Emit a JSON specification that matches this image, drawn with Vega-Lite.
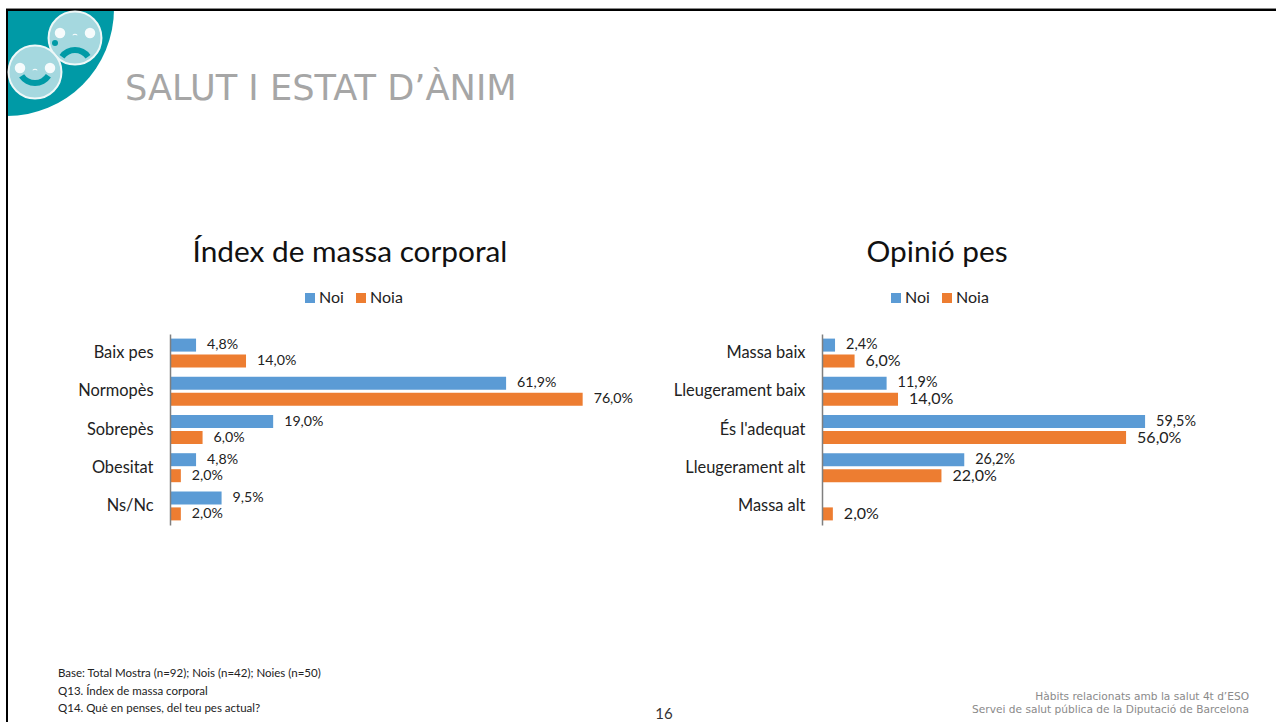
{
"$schema":"https://vega.github.io/schema/vega-lite/v6.json",
"background":"white",
"padding":0,
"autosize":{"type":"pad"},
"bounds":"flush",
"spacing":182,
"config":{"view":{"stroke":null},"font":"Lato"},
"datasets":{
"imc":[
{"cat":"Baix pes","sexe":"Noi","val":4.8,"label":"4,8%"},{"cat":"Baix pes","sexe":"Noia","val":14,"label":"14,0%"},
{"cat":"Normopès","sexe":"Noi","val":61.9,"label":"61,9%"},{"cat":"Normopès","sexe":"Noia","val":76,"label":"76,0%"},
{"cat":"Sobrepès","sexe":"Noi","val":19,"label":"19,0%"},{"cat":"Sobrepès","sexe":"Noia","val":6,"label":"6,0%"},
{"cat":"Obesitat","sexe":"Noi","val":4.8,"label":"4,8%"},{"cat":"Obesitat","sexe":"Noia","val":2,"label":"2,0%"},
{"cat":"Ns/Nc","sexe":"Noi","val":9.5,"label":"9,5%"},{"cat":"Ns/Nc","sexe":"Noia","val":2,"label":"2,0%"}],
"opinio":[
{"cat":"Massa baix","sexe":"Noi","val":2.4,"label":"2,4%"},{"cat":"Massa baix","sexe":"Noia","val":6,"label":"6,0%"},
{"cat":"Lleugerament baix","sexe":"Noi","val":11.9,"label":"11,9%"},{"cat":"Lleugerament baix","sexe":"Noia","val":14,"label":"14,0%"},
{"cat":"És l'adequat","sexe":"Noi","val":59.5,"label":"59,5%"},{"cat":"És l'adequat","sexe":"Noia","val":56,"label":"56,0%"},
{"cat":"Lleugerament alt","sexe":"Noi","val":26.2,"label":"26,2%"},{"cat":"Lleugerament alt","sexe":"Noia","val":22,"label":"22,0%"},
{"cat":"Massa alt","sexe":"Noia","val":2,"label":"2,0%"}],
"one":[{"k":1}]
},
"hconcat":[
{
"width":470,"height":191,
"layer":[
{"data":{"name":"one"},"mark":{"type":"rect","fill":"transparent","x":-170,"x2":1106,"y":-334,"y2":388},"encoding":{}},
{"data":{"name":"one"},"mark":{"type":"arc","fill":"#009aa6","x":-163,"y":-325,"theta":1.5708,"theta2":3.1416,"outerRadius":107,"innerRadius":0},"encoding":{}},
{"data":{"name":"one"},"mark":{"type":"rect","fill":"#000000","x":-164,"x2":-162,"y":-325,"y2":388},"encoding":{}},
{"data":{"name":"one"},"mark":{"type":"rect","fill":"#000000","x":-164,"x2":1106,"y":-325,"y2":-323},"encoding":{}},
{"data":{"name":"one"},"mark":{"type":"rect","fill":"#8a8a8a","x":-164,"x2":1106,"y":-326,"y2":-325},"encoding":{}},
{"data":{"name":"one"},"mark":{"type":"point","shape":"circle","filled":true,"fill":"#a5d8df","stroke":"#eef8f8","strokeWidth":2,"opacity":1,"size":2800,"x":-95,"y":-296},"encoding":{}},
{"data":{"name":"one"},"mark":{"type":"point","shape":"circle","filled":true,"fill":"#a5d8df","stroke":"#eef8f8","strokeWidth":2,"opacity":1,"size":2800,"x":-135,"y":-262},"encoding":{}},
{"data":{"name":"one"},"mark":{"type":"point","shape":"circle","filled":true,"fill":"#ffffff","opacity":0.9,"size":110,"x":-110,"y":-301},"encoding":{}},
{"data":{"name":"one"},"mark":{"type":"point","shape":"circle","filled":true,"fill":"#ffffff","opacity":0.9,"size":110,"x":-80,"y":-301},"encoding":{}},
{"data":{"name":"one"},"mark":{"type":"point","shape":"circle","filled":true,"fill":"#ffffff","opacity":0.9,"size":110,"x":-150,"y":-266},"encoding":{}},
{"data":{"name":"one"},"mark":{"type":"point","shape":"circle","filled":true,"fill":"#ffffff","opacity":0.9,"size":110,"x":-120,"y":-266},"encoding":{}},
{"data":{"name":"one"},"mark":{"type":"arc","fill":"#ffffff","x":-95,"y":-296,"theta":-0.7,"theta2":0.7,"outerRadius":4,"innerRadius":3.2},"encoding":{}},
{"data":{"name":"one"},"mark":{"type":"arc","fill":"#ffffff","x":-135,"y":-261,"theta":-0.7,"theta2":0.7,"outerRadius":4,"innerRadius":3.2},"encoding":{}},
{"data":{"name":"one"},"mark":{"type":"arc","fill":"#009aa6","x":-95,"y":-268,"theta":-0.95,"theta2":0.95,"outerRadius":19,"innerRadius":13},"encoding":{}},
{"data":{"name":"one"},"mark":{"type":"arc","fill":"#009aa6","x":-135,"y":-267,"theta":2.15,"theta2":4.13,"outerRadius":19,"innerRadius":13},"encoding":{}},
{"data":{"name":"one"},"mark":{"type":"point","shape":"circle","filled":true,"fill":"#009aa6","opacity":1,"size":36,"x":-115,"y":-291},"encoding":{}},
{"data":{"name":"one"},"mark":{"type":"text","text":"SALUT I ESTAT D’ÀNIM","font":"DejaVu Sans","fontSize":35.2,"color":"#a6a6a6","align":"left","baseline":"alphabetic","x":-45,"y":-234},"encoding":{}},
{"data":{"name":"one"},"mark":{"type":"text","text":"Índex de massa corporal","font":"Lato","fontSize":29.8,"color":"#111111","align":"center","baseline":"alphabetic","x":180,"y":-72},"encoding":{}},
{"data":{"name":"one"},"mark":{"type":"text","text":"Opinió pes","font":"Lato","fontSize":29.8,"color":"#111111","align":"center","baseline":"alphabetic","x":767,"y":-72},"encoding":{}},
{"data":{"name":"one"},"mark":{"type":"text","text":["Base: Total Mostra (n=92); Nois (n=42); Noies (n=50)","Q13. Índex de massa corporal","Q14. Què en penses, del teu pes actual?"],"font":"Lato","fontSize":11.5,"lineHeight":17.5,"color":"#222222","align":"left","baseline":"middle","x":-112,"y":340},"encoding":{}},
{"data":{"name":"one"},"mark":{"type":"text","text":"16","font":"Lato","fontSize":15,"color":"#333333","align":"center","baseline":"middle","x":494,"y":380},"encoding":{}},
{"data":{"name":"one"},"mark":{"type":"text","text":["Hàbits  relacionats  amb la salut  4t d’ESO","Servei de salut pública de la Diputació de Barcelona"],"font":"DejaVu Sans","fontSize":10.6,"lineHeight":13,"color":"#8a8a8a","align":"right","baseline":"middle","x":1079,"y":363},"encoding":{}},
{"data":{"name":"imc"},"mark":{"type":"bar"},
"encoding":{
"y":{"field":"cat","type":"nominal","sort":["Baix pes","Normopès","Sobrepès","Obesitat","Ns/Nc"],"scale":{"paddingInner":0,"paddingOuter":0},
"axis":{"title":null,"ticks":false,"labelFont":"Lato","labelFontSize":16.4,"labelColor":"#222222","labelPadding":17,"domainColor":"#7f7f7f","domainWidth":1.5,"grid":false,"zindex":1}},
"yOffset":{"field":"sexe","type":"nominal","sort":["Noi","Noia"],"scale":{"domain":["Noi","Noia"],"paddingInner":0.1875,"paddingOuter":0.2875}},
"x":{"field":"val","type":"quantitative","scale":{"domain":[0,86.56],"nice":false,"zero":true},"axis":null},
"color":{"field":"sexe","type":"nominal","scale":{"domain":["Noi","Noia"],"range":["#5b9bd5","#ed7d31"]},
"legend":{"title":null,"orient":"none","legendX":132,"legendY":-44,"direction":"horizontal","columns":2,"columnPadding":9,"symbolType":"square","symbolSize":100,"symbolStrokeWidth":0,"labelFont":"Lato","labelFontSize":16,"labelColor":"#222222","labelOffset":1,"padding":0}}
}},
{"data":{"name":"imc"},"mark":{"type":"text","align":"left","baseline":"middle","dx":11,"font":"Lato","fontSize":14.2,"color":"#222222"},
"encoding":{
"y":{"field":"cat","type":"nominal","sort":["Baix pes","Normopès","Sobrepès","Obesitat","Ns/Nc"]},
"yOffset":{"field":"sexe","type":"nominal","sort":["Noi","Noia"],"scale":{"domain":["Noi","Noia"],"paddingInner":0.1875,"paddingOuter":0.2875}},
"x":{"field":"val","type":"quantitative"},
"text":{"field":"label"}
}}
]
},
{
"width":470,"height":191,
"layer":[
{"data":{"name":"opinio"},"mark":{"type":"bar"},
"encoding":{
"y":{"field":"cat","type":"nominal","sort":["Massa baix","Lleugerament baix","És l'adequat","Lleugerament alt","Massa alt"],"scale":{"paddingInner":0,"paddingOuter":0},
"axis":{"title":null,"ticks":false,"labelFont":"Lato","labelFontSize":16.4,"labelColor":"#222222","labelPadding":17,"domainColor":"#7f7f7f","domainWidth":1.5,"grid":false,"zindex":1}},
"yOffset":{"field":"sexe","type":"nominal","sort":["Noi","Noia"],"scale":{"domain":["Noi","Noia"],"paddingInner":0.1875,"paddingOuter":0.2875}},
"x":{"field":"val","type":"quantitative","scale":{"domain":[0,86.56],"nice":false,"zero":true},"axis":null},
"color":{"field":"sexe","type":"nominal","scale":{"domain":["Noi","Noia"],"range":["#5b9bd5","#ed7d31"]},
"legend":{"title":null,"orient":"none","legendX":66,"legendY":-44,"direction":"horizontal","columns":2,"columnPadding":9,"symbolType":"square","symbolSize":100,"symbolStrokeWidth":0,"labelFont":"Lato","labelFontSize":16,"labelColor":"#222222","labelOffset":1,"padding":0}}
}},
{"data":{"name":"opinio"},"transform":[{"filter":"datum.sexe === 'Noi'"}],"mark":{"type":"text","align":"left","baseline":"middle","dx":11,"font":"Lato","fontSize":14.4,"color":"#222222"},
"encoding":{
"y":{"field":"cat","type":"nominal","sort":["Massa baix","Lleugerament baix","És l'adequat","Lleugerament alt","Massa alt"]},
"yOffset":{"field":"sexe","type":"nominal","sort":["Noi","Noia"],"scale":{"domain":["Noi","Noia"],"paddingInner":0.1875,"paddingOuter":0.2875}},
"x":{"field":"val","type":"quantitative"},
"text":{"field":"label"}
}},
{"data":{"name":"opinio"},"transform":[{"filter":"datum.sexe === 'Noia'"}],"mark":{"type":"text","align":"left","baseline":"middle","dx":11,"font":"Lato","fontSize":16,"color":"#222222"},
"encoding":{
"y":{"field":"cat","type":"nominal","sort":["Massa baix","Lleugerament baix","És l'adequat","Lleugerament alt","Massa alt"]},
"yOffset":{"field":"sexe","type":"nominal","sort":["Noi","Noia"],"scale":{"domain":["Noi","Noia"],"paddingInner":0.1875,"paddingOuter":0.2875}},
"x":{"field":"val","type":"quantitative"},
"text":{"field":"label"}
}}
]
}
],
"resolve":{"scale":{"color":"independent","x":"independent","y":"independent","yOffset":"independent"},"legend":{"color":"independent"}}
}
